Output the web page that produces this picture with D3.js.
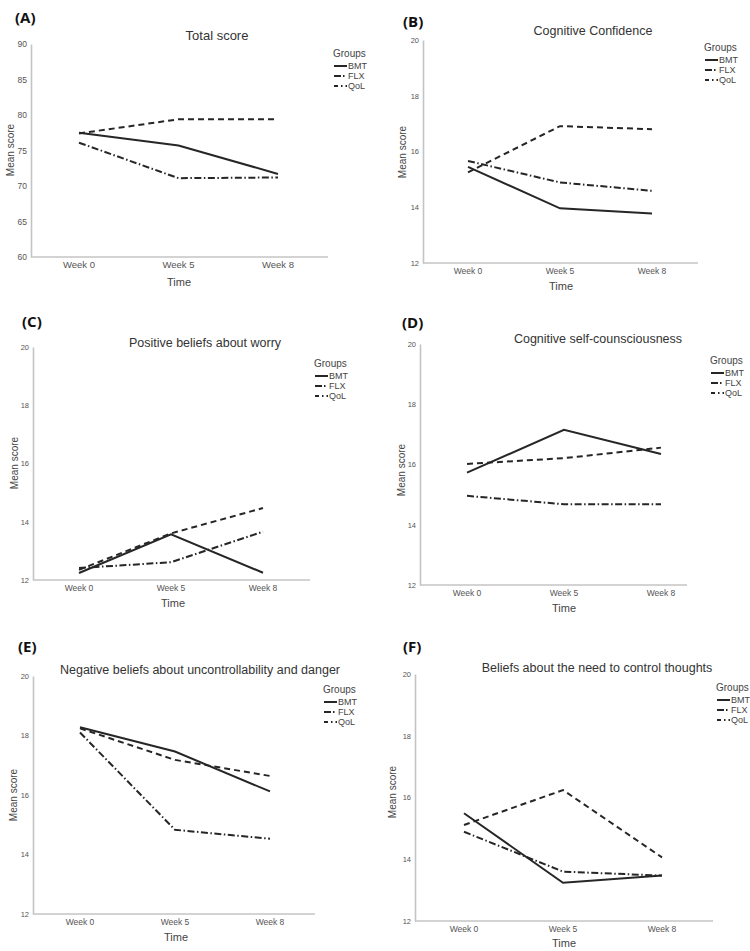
<!DOCTYPE html>
<html><head><meta charset="utf-8">
<script src="https://cdn.jsdelivr.net/npm/d3@7"></script>
<style>
body{margin:0;background:#fff;}
svg{display:block;font-family:"Liberation Sans",Arial,sans-serif;}
</style></head>
<body><svg id="c" width="750" height="951"></svg>
<script>
// ---- data ----
const weeks = ["Week 0", "Week 5", "Week 8"];
const groups = ["BMT", "FLX", "QoL"];
const panelLetters = ["(A)", "(B)", "(C)", "(D)", "(E)", "(F)"];
const titles = ["Total score", "Cognitive Confidence", "Positive beliefs about worry",
  "Cognitive self-counsciousness", "Negative beliefs about uncontrollability and danger",
  "Beliefs about the need to control thoughts"];
const ticksTotal = [60, 65, 70, 75, 80, 85, 90];
const ticksSub = [12, 14, 16, 18, 20];
// values per group [Week 0, Week 5, Week 8]
const totalBMT = [77.5, 75.7, 71.7], totalFLX = [76.1, 71.1, 71.2], totalQoL = [77.4, 79.4, 79.4];
const ccBMT = [15.45, 13.96, 13.78], ccFLX = [15.66, 14.89, 14.59], ccQoL = [15.25, 16.91, 16.80];
const pbBMT = [12.24, 13.57, 12.25], pbFLX = [12.41, 12.61, 13.66], pbQoL = [12.35, 13.6, 14.47];
const csBMT = [15.73, 17.15, 16.35], csFLX = [14.96, 14.68, 14.68], csQoL = [16.02, 16.21, 16.56];
const nbBMT = [18.28, 17.46, 16.12], nbFLX = [18.10, 14.83, 14.53], nbQoL = [18.24, 17.18, 16.64];
const bnBMT = [15.49, 13.24, 13.47], bnFLX = [14.89, 13.60, 13.47], bnQoL = [15.11, 16.24, 14.06];
const panelData = [
  [totalBMT, totalFLX, totalQoL], [ccBMT, ccFLX, ccQoL], [pbBMT, pbFLX, pbQoL],
  [csBMT, csFLX, csQoL], [nbBMT, nbFLX, nbQoL], [bnBMT, bnFLX, bnQoL]];
const panelTicks = [ticksTotal, ticksSub, ticksSub, ticksSub, ticksSub, ticksSub];

// ---- layout (positions only) ----
const L = [
  {ax:31, top:44, bot:257, right:328, w0:79, w8:278, tx:217, ty:40, lx:15, ly:23, gx:333, gy:57, time:[179,286], ms:[7,150], fs:9.5, ts:13},
  {ax:423, top:40, bot:263, right:698, w0:468, w8:652, tx:593, ty:35, lx:403, ly:27, gx:704, gy:51, time:[561,290], ms:[399,152], fs:8.5, ts:12.5},
  {ax:33, top:347, bot:580, right:310, w0:79, w8:263, tx:205, ty:347, lx:22, ly:327, gx:314, gy:367, time:[173,607], ms:[11,463], fs:8.5, ts:12.5},
  {ax:420, top:344, bot:585, right:687, w0:467, w8:661, tx:598, ty:343, lx:402, ly:328, gx:710, gy:364, time:[564,612], ms:[398,470], fs:8.5, ts:12.5},
  {ax:33, top:676, bot:914, right:315, w0:80, w8:270, tx:200, ty:674, lx:18, ly:652, gx:323, gy:693, time:[176,941], ms:[10,795], fs:8.5, ts:12.5},
  {ax:415, top:674, bot:921, right:713, w0:464, w8:662, tx:597, ty:672, lx:403, ly:652, gx:716, gy:691, time:[564,947], ms:[389,792], fs:8.5, ts:12.5}
];
const dashes = {BMT: null, FLX: "7,2.5,1.5,2.5", QoL: "6,4"};
const ink = "#262626";

const svg = d3.select("#c");
panelData.forEach((series, i) => {
  const p = L[i];
  const g = svg.append("g");
  const ticks = panelTicks[i];
  const y = d3.scaleLinear().domain([ticks[0], ticks[ticks.length-1]]).range([p.bot, p.top]);
  const x = d3.scalePoint().domain(weeks).range([p.w0, p.w8]);

  // panel letter
  g.append("text").attr("x", p.lx).attr("y", p.ly).text(panelLetters[i])
    .attr("font-family", "'Open Sans','Liberation Sans',sans-serif")
    .attr("font-weight", "bold").attr("font-size", 15).attr("fill", "#111");
  // title
  g.append("text").attr("x", p.tx).attr("y", p.ty).attr("text-anchor", "middle")
    .attr("font-size", p.ts).attr("fill", "#333").text(titles[i]);

  // y axis
  const ya = g.append("g").attr("transform", `translate(${p.ax},0)`)
    .call(d3.axisLeft(y).tickValues(ticks).tickSize(0).tickPadding(4));
  ya.select(".domain").attr("stroke", "#c4c4c4").attr("stroke-width", 1.6);
  ya.selectAll("text").attr("font-size", p.fs - 1).attr("fill", "#555").attr("font-family", "'Liberation Sans',Arial,sans-serif");
  // x axis
  const xa = g.append("g").attr("transform", `translate(0,${p.bot})`);
  xa.append("line").attr("x1", p.ax).attr("x2", p.right).attr("y1", 0).attr("y2", 0)
    .attr("stroke", "#c4c4c4").attr("stroke-width", 1.6);
  xa.selectAll("text").data(weeks).join("text")
    .attr("x", d => x(d)).attr("y", 11).attr("text-anchor", "middle")
    .attr("font-size", p.fs).attr("fill", "#555").text(d => d);

  // axis titles
  g.append("text").attr("x", p.time[0]).attr("y", p.time[1]).attr("text-anchor", "middle")
    .attr("font-size", 11).attr("fill", "#444").text("Time");
  g.append("text").attr("transform", `translate(${p.ms[0]},${p.ms[1]}) rotate(-90)`)
    .attr("text-anchor", "middle").attr("dominant-baseline", "hanging")
    .attr("font-size", 10).attr("fill", "#444").text("Mean score");

  // lines
  const line = d3.line().x((d, k) => x(weeks[k])).y(d => y(d));
  groups.forEach((gr, k) => {
    g.append("path").datum(series[k]).attr("d", line)
      .attr("fill", "none").attr("stroke", ink).attr("stroke-width", 2)
      .attr("stroke-dasharray", dashes[gr]);
  });

  // legend
  const lg = g.append("g").attr("transform", `translate(${p.gx},${p.gy})`);
  lg.append("text").attr("x", 0).attr("y", 0).attr("font-size", 10).attr("fill", "#444").text("Groups");
  groups.forEach((gr, k) => {
    const yy = 12 + k * 10;
    lg.append("line").attr("x1", 1).attr("x2", 14).attr("y1", yy - 3).attr("y2", yy - 3)
      .attr("stroke", ink).attr("stroke-width", 2).attr("stroke-dasharray", gr === "BMT" ? null : (gr === "FLX" ? "7,2,1.5,3" : "4,3,1.5,3"));
    lg.append("text").attr("x", 15).attr("y", yy).attr("font-size", 9).attr("fill", "#444").text(gr);
  });
});
</script></body></html>
